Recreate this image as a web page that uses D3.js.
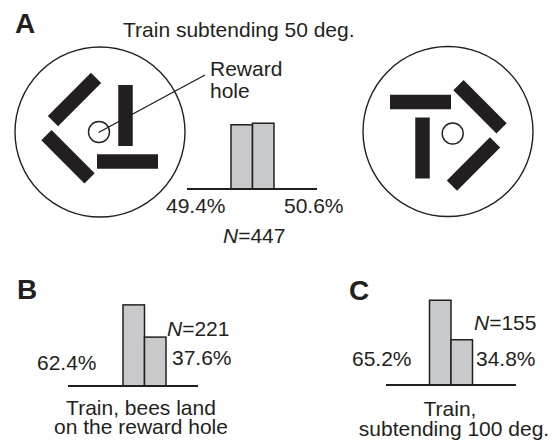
<!DOCTYPE html>
<html>
<head>
<meta charset="utf-8">
<script src="https://cdn.jsdelivr.net/npm/d3@7"></script>
<style>
  html, body { margin: 0; padding: 0; background: #fff; }
  svg { display: block; }
  text { font-family: "Liberation Sans", Arial, Helvetica, sans-serif; fill: #231f20; }
</style>
</head>
<body>
<script>
// ---- data ----
const categories = ["left", "right"];
const valuesA = [49.4, 50.6];
const valuesB = [62.4, 37.6];
const valuesC = [65.2, 34.8];
const countsN = [447, 221, 155];
const panelLetters = ["A", "B", "C"];
const titleA = "Train subtending 50 deg.";
const captionB = ["Train, bees land", "on the reward hole"];
const captionC = ["Train,", "subtending 100 deg."];
const rewardLabel = ["Reward", "hole"];

const W = 555, H = 444;
const ink = "#231f20";
const barFill = "#c8c9cb";

const svg = d3.select("body").append("svg")
  .attr("width", W).attr("height", H);

// ---- panel letters ----
const letterPos = [[15, 33], [17, 299], [349, 300]];
svg.selectAll("text.letter").data(panelLetters).join("text")
  .attr("class", "letter")
  .attr("x", (d, i) => letterPos[i][0])
  .attr("y", (d, i) => letterPos[i][1])
  .attr("font-size", 28).attr("font-weight", "bold")
  .text(d => d);

// ---- title ----
svg.append("text").attr("x", 123).attr("y", 37).attr("font-size", 21).text(titleA);

// ---- stimulus diagrams ----
function drawPattern(cx, cy, rot, hole) {
  const g = svg.append("g").attr("transform", `translate(${cx},${cy})`);
  g.append("circle").attr("r", 85).attr("fill", "none")
    .attr("stroke", ink).attr("stroke-width", 1.4);
  const pg = g.append("g").attr("transform", `rotate(${rot})`);
  const L = 61, T = 14.5;
  const bars = [
    { x: 25.5, y: -16.5, a: 90 },
    { x: 27.5, y: 29.5, a: 0 },
    { x: -25.5, y: -32.5, a: -45 },
    { x: -32, y: 24.75, a: 45 }
  ];
  pg.selectAll("rect").data(bars).join("rect")
    .attr("x", -L / 2).attr("y", -T / 2)
    .attr("width", L).attr("height", T)
    .attr("fill", ink)
    .attr("transform", d => `translate(${d.x},${d.y}) rotate(${d.a})`);
  g.append("circle").attr("cx", hole[0]).attr("cy", hole[1]).attr("r", 10.5)
    .attr("fill", "#fff").attr("stroke", ink).attr("stroke-width", 1.4);
  return g;
}
drawPattern(100, 132, 0, [-1, 0]);
drawPattern(448, 131.5, 180, [4.7, 2]);

// reward hole pointer line and label
svg.append("line").attr("x1", 98.5).attr("y1", 132.5).attr("x2", 205).attr("y2", 75)
  .attr("stroke", ink).attr("stroke-width", 1.4);
svg.selectAll("text.reward").data(rewardLabel).join("text")
  .attr("class", "reward")
  .attr("x", 210).attr("y", (d, i) => 76 + i * 22)
  .attr("font-size", 21).text(d => d);

// ---- bar histograms ----
function drawHist(values, cfg) {
  const y = d3.scaleLinear().domain([0, 100]).range([cfg.base, cfg.base - 130]);
  const x = d3.scaleBand().domain(categories).range([cfg.bx, cfg.bx + 43]).padding(0);
  const g = svg.append("g");
  g.selectAll("rect").data(values).join("rect")
    .attr("x", (d, i) => x(categories[i]))
    .attr("y", d => y(d))
    .attr("width", x.bandwidth())
    .attr("height", d => y(0) - y(d))
    .attr("fill", barFill).attr("stroke", ink).attr("stroke-width", 1.5);
  g.append("line").attr("x1", cfg.ax0).attr("x2", cfg.ax1)
    .attr("y1", y(0)).attr("y2", y(0))
    .attr("stroke", ink).attr("stroke-width", 2);
  // value labels
  g.selectAll("text.val").data(values).join("text")
    .attr("class", "val")
    .attr("x", (d, i) => cfg.labels[i][0])
    .attr("y", (d, i) => cfg.labels[i][1])
    .attr("font-size", 21)
    .text(d => d3.format(".1f")(d) + "%");
  // N label
  const t = g.append("text").attr("x", cfg.n[0]).attr("y", cfg.n[1]).attr("font-size", 21);
  t.append("tspan").attr("font-style", "italic").text("N");
  t.append("tspan").text("=" + cfg.count);
  // caption
  if (cfg.caption) {
    g.selectAll("text.cap").data(cfg.caption).join("text")
      .attr("class", "cap")
      .attr("x", (d, i) => cfg.capX[i])
      .attr("y", (d, i) => cfg.capY[i])
      .attr("text-anchor", "middle")
      .attr("font-size", 21)
      .text(d => d);
  }
}

drawHist(valuesA, {
  base: 189, bx: 231, ax0: 187, ax1: 317,
  labels: [[166, 213], [284, 213]],
  n: [223, 243], count: countsN[0]
});
drawHist(valuesB, {
  base: 386, bx: 123, ax0: 68, ax1: 198,
  labels: [[37, 370], [172, 365]],
  n: [167, 336], count: countsN[1],
  caption: captionB, capX: [141, 141], capY: [415, 434]
});
drawHist(valuesC, {
  base: 385, bx: 429.5, ax0: 386, ax1: 516,
  labels: [[352, 366], [476, 366]],
  n: [474, 330], count: countsN[2],
  caption: captionC, capX: [450, 454], capY: [416, 436]
});
</script>
</body>
</html>
